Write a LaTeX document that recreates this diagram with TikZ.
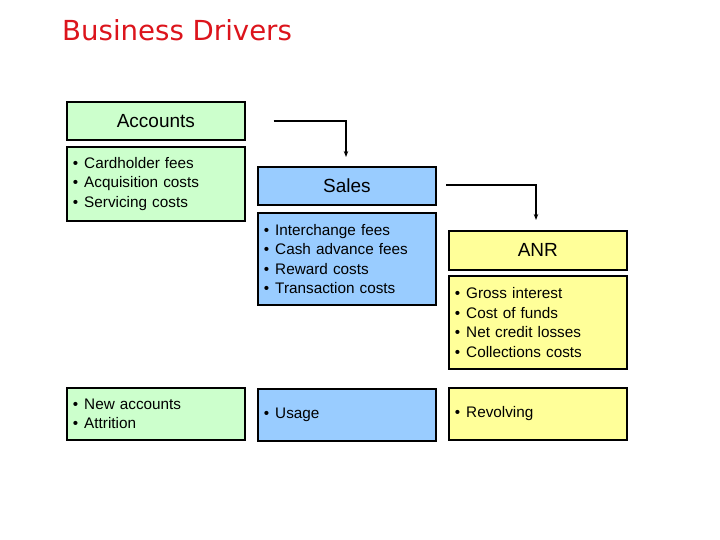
\documentclass[tikz,border=0pt]{standalone}
\usepackage{fontspec}
\setmainfont{Liberation Sans}
\newfontfamily\titlefont{DejaVu Sans}
\usetikzlibrary{arrows.meta,calc}
\definecolor{titlered}{RGB}{220,20,28}
\definecolor{boxgreen}{RGB}{204,255,204}
\definecolor{boxblue}{RGB}{153,204,255}
\definecolor{boxyellow}{RGB}{255,255,153}
\newcommand{\bitem}{•\hspace{6pt}}
\tikzset{
  hdrbox/.style={draw=black, line width=1.7pt, minimum width=178pt, minimum height=38pt,
    inner sep=0pt, font=\fontsize{19}{22}\selectfont, anchor=north west},
  listbox/.style={draw=black, line width=1.7pt, minimum width=178pt, inner sep=0pt,
    text width=166pt, align=left, font=\fontsize{15.3}{19.5}\selectfont, anchor=north west},
  conn/.style={line width=1.8pt, -{Stealth[length=6pt,width=4.5pt]}},
}
\begin{document}
\begin{tikzpicture}[x=1pt,y=-1pt]
\useasboundingbox (0,0) rectangle (720,540);
\node[anchor=base west, inner sep=0pt, text=titlered, font=\titlefont\fontsize{27.6}{30}\selectfont] (title) at (62,41) {Business Drivers};

% Accounts column
\node[hdrbox, fill=boxgreen] (acc) at (66,101) {Accounts};
\node[listbox, fill=boxgreen, minimum height=74pt] (accd) at (66,146) {\bitem Cardholder fees\\\bitem Acquisition costs\\\bitem Servicing costs};
\node[listbox, fill=boxgreen, minimum height=52pt] (accb) at (66,387) {\bitem New accounts\\\bitem Attrition};

% Sales column
\node[hdrbox, fill=boxblue] (sal) at (257,166) {Sales};
\node[listbox, fill=boxblue, minimum height=92pt] (sald) at (257,212) {\bitem Interchange fees\\\bitem Cash advance fees\\\bitem Reward costs\\\bitem Transaction costs};
\node[listbox, fill=boxblue, minimum height=52pt] (salb) at (257,388) {\bitem Usage};

% ANR column
\node[hdrbox, fill=boxyellow, minimum height=39pt] (anr) at (448,230) {ANR};
\node[listbox, fill=boxyellow, minimum height=93pt] (anrd) at (448,275) {\bitem Gross interest\\\bitem Cost of funds\\\bitem Net credit losses\\\bitem Collections costs};
\node[listbox, fill=boxyellow, minimum height=52pt] (anrb) at (448,387) {\bitem Revolving};

% Connectors
\coordinate (s1) at ($(acc.east)+(28,0)$);
\coordinate (e1) at (346,157);
\coordinate (s2) at (446,185);
\coordinate (e2) at (536,220);
\draw[conn] (s1) -| (e1);
\draw[conn] (s2) -| (e2);
\end{tikzpicture}
\end{document}
